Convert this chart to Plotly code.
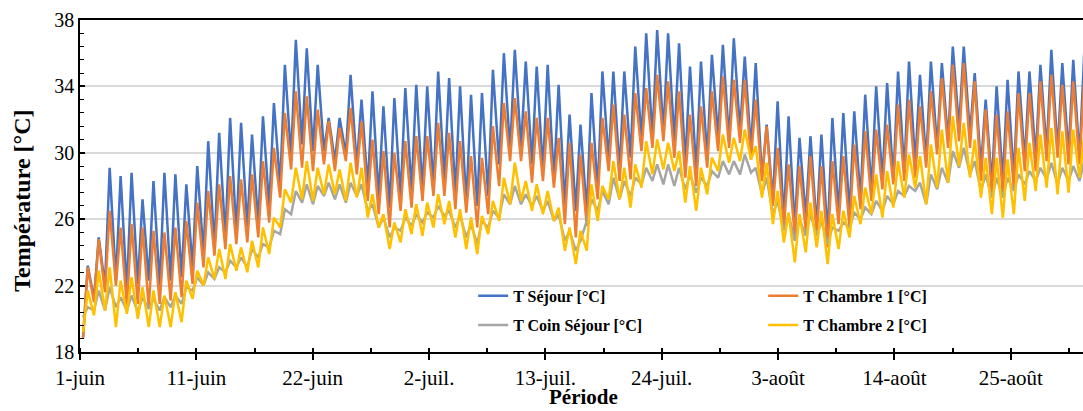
import plotly.graph_objects as go

# Daily extremes (°C), June 1 (day 0) to August 31 (day 91)
sejour_max = [23.2, 24.9, 29.1, 28.6, 28.8, 27.2, 28.3, 28.8, 28.7, 28.1,
              29.2, 30.7, 31.2, 32.1, 31.8, 31.1, 32.2, 33.0, 35.3, 36.8,
              36.3, 35.3, 32.1, 32.1, 34.7, 33.2, 33.7, 32.8, 33.3, 33.9,
              34.1, 34.0, 34.9, 34.5, 34.0, 33.5, 33.6, 35.0, 36.0, 36.2,
              35.5, 35.2, 35.3, 34.1, 32.3, 31.7, 33.6, 34.9, 34.9, 34.9,
              36.4, 37.2, 37.4, 37.2, 36.6, 35.2, 35.5, 35.9, 36.5, 36.9,
              35.8, 35.4, 31.7, 33.1, 32.2, 30.9, 31.0, 31.1, 32.1, 32.4,
              32.5, 33.5, 34.0, 34.2, 34.9, 35.5, 34.7, 35.5, 35.4, 36.4,
              36.4, 34.8, 33.2, 34.0, 34.4, 34.9, 34.9, 35.3, 36.2, 35.4,
              35.6, 36.0]
sejour_min = [18.9, 21.2, 22.0, 22.3, 21.7, 22.1, 22.3, 22.0, 22.3, 22.5,
              23.1, 23.9, 24.3, 24.9, 25.2, 25.5, 25.7, 26.7, 28.0, 29.7,
              30.5, 30.1, 30.1, 29.5, 29.9, 29.2, 27.9, 27.3, 26.7, 27.3,
              27.7, 27.7, 27.9, 28.3, 27.5, 26.9, 26.8, 27.4, 29.3, 30.1,
              30.3, 29.3, 28.9, 28.3, 26.8, 26.5, 26.4, 27.7, 29.5, 28.9,
              29.7, 30.7, 30.9, 31.2, 30.7, 29.3, 28.9, 29.7, 30.9, 30.7,
              31.3, 30.2, 28.5, 27.1, 25.9, 25.5, 26.1, 25.5, 25.0, 26.3,
              26.3, 27.2, 27.7, 28.3, 28.4, 28.9, 29.3, 29.5, 30.3, 30.7,
              31.5, 31.1, 29.1, 28.1, 28.3, 28.5, 29.5, 29.7, 30.1, 30.1,
              29.9, 29.7]

chambre1_max = [23.1, 24.8, 26.5, 25.5, 25.7, 25.5, 25.3, 25.2, 25.5, 25.9,
                27.0, 27.7, 28.1, 28.6, 28.4, 28.7, 29.5, 30.3, 32.4, 33.7,
                33.4, 32.6, 31.9, 31.5, 32.7, 31.9, 30.8, 30.1, 30.0, 30.7,
                31.0, 31.0, 31.8, 31.2, 30.7, 29.8, 29.7, 31.6, 33.0, 33.3,
                32.5, 32.1, 32.1, 30.9, 30.6, 29.9, 30.6, 32.1, 32.9, 32.3,
                33.6, 33.9, 34.7, 34.3, 33.7, 32.3, 32.8, 33.7, 34.6, 34.4,
                34.4, 33.2, 31.6, 30.3, 29.3, 29.2, 29.8, 29.2, 29.5, 29.8,
                30.5, 31.3, 31.4, 31.7, 32.9, 33.2, 32.8, 33.7, 34.5, 35.3,
                35.4, 34.3, 32.6, 32.3, 32.5, 33.6, 33.6, 34.3, 34.7, 34.1,
                34.3, 34.4]
chambre1_min = [18.8, 21.0, 21.6, 22.0, 20.8, 20.9, 20.7, 20.9, 21.1, 21.3,
                22.1, 23.1, 23.8, 24.2, 24.5, 24.6, 24.9, 25.8, 27.3, 29.0,
                29.1, 28.9, 29.3, 28.9, 29.5, 28.7, 27.1, 26.3, 25.5, 26.5,
                26.7, 27.1, 27.4, 27.4, 26.6, 26.4, 25.5, 26.3, 28.0, 29.5,
                29.5, 28.2, 28.3, 27.9, 25.7, 24.9, 25.6, 27.2, 28.9, 28.3,
                28.4, 30.1, 30.3, 30.7, 29.7, 28.5, 28.0, 29.1, 30.1, 30.3,
                30.6, 29.6, 28.3, 26.8, 25.5, 25.0, 25.3, 25.1, 24.3, 25.7,
                25.5, 26.6, 27.1, 27.8, 28.1, 28.3, 28.5, 29.1, 29.9, 30.3,
                30.7, 30.3, 28.3, 27.5, 27.5, 27.9, 28.9, 28.9, 29.5, 29.7,
                29.3, 29.3]

coin_sejour_max = [20.7, 21.7, 21.9, 21.3, 21.4, 21.3, 21.2, 21.3, 21.4, 21.9,
                   22.5, 22.8, 23.1, 23.5, 23.7, 24.2, 24.5, 25.3, 26.6, 27.7,
                   28.1, 28.0, 28.2, 28.1, 28.2, 28.1, 26.9, 26.1, 25.5, 26.1,
                   26.3, 26.4, 26.8, 26.5, 26.2, 25.7, 25.9, 26.5, 27.5, 28.0,
                   27.5, 27.4, 27.1, 26.3, 25.3, 24.7, 27.2, 27.7, 28.5, 28.3,
                   28.5, 29.1, 29.3, 29.3, 29.1, 28.7, 28.5, 28.9, 29.5, 29.5,
                   29.9, 29.1, 28.5, 27.1, 26.3, 26.0, 26.3, 25.9, 25.5, 25.8,
                   26.4, 26.7, 27.1, 27.4, 27.7, 28.0, 28.2, 28.7, 29.1, 30.1,
                   30.3, 29.5, 28.7, 28.5, 28.5, 28.7, 28.9, 29.1, 29.4, 29.1,
                   29.2, 29.5]
coin_sejour_min = [20.1, 20.5, 20.5, 20.7, 20.5, 20.4, 20.6, 20.5, 20.7, 20.9,
                   21.7, 22.0, 22.4, 22.8, 23.1, 23.1, 23.7, 24.3, 25.1, 26.3,
                   27.0, 26.9, 27.4, 27.2, 27.0, 27.4, 26.5, 25.5, 24.9, 25.3,
                   25.6, 25.8, 26.1, 26.2, 25.5, 24.9, 24.5, 25.5, 26.1, 26.9,
                   26.9, 26.8, 26.5, 25.9, 24.7, 24.1, 25.9, 26.5, 26.9, 27.2,
                   27.4, 28.1, 28.3, 28.1, 28.0, 27.8, 27.6, 28.0, 28.5, 28.7,
                   28.7, 28.8, 27.5, 26.3, 25.3, 24.7, 25.0, 25.0, 24.5, 25.3,
                   25.5, 26.0, 26.3, 26.5, 26.9, 27.4, 27.7, 26.9, 27.8, 28.2,
                   29.1, 28.7, 27.7, 27.3, 27.3, 27.7, 28.1, 28.3, 28.4, 28.1,
                   28.3, 28.3]

chambre2_max = [21.7, 22.9, 23.1, 22.3, 22.5, 21.9, 21.7, 21.4, 21.6, 22.3,
                22.9, 23.7, 24.2, 24.5, 24.3, 24.7, 25.5, 26.1, 27.8, 29.1,
                29.5, 29.1, 29.3, 29.0, 29.4, 29.1, 27.5, 26.3, 25.8, 26.6,
                26.9, 27.0, 27.5, 27.1, 26.6, 26.1, 26.2, 27.1, 28.5, 29.4,
                28.3, 28.1, 27.7, 26.7, 25.5, 25.3, 28.1, 28.0, 29.5, 29.1,
                29.3, 30.7, 30.8, 30.6, 30.1, 29.2, 29.1, 29.7, 31.1, 30.9,
                31.4, 30.4, 29.4, 27.7, 26.4, 26.3, 27.0, 26.5, 26.3, 26.5,
                27.4, 27.9, 28.7, 28.9, 29.5, 29.9, 29.8, 30.5, 31.4, 32.2,
                31.8, 30.8, 29.7, 29.7, 29.6, 30.3, 30.6, 31.1, 31.5, 31.3,
                31.4, 31.0]
chambre2_min = [19.2, 20.2, 20.5, 19.5, 20.3, 20.0, 19.5, 19.5, 19.5, 19.8,
                21.2, 22.0, 22.4, 22.4, 22.9, 22.8, 23.1, 23.9, 25.5, 27.0,
                27.2, 27.1, 27.5, 27.5, 27.1, 27.3, 26.1, 25.5, 24.2, 24.6,
                25.1, 25.0, 25.5, 25.7, 24.9, 24.2, 23.9, 25.1, 25.9, 26.9,
                27.1, 26.5, 26.3, 25.9, 24.1, 23.3, 24.1, 25.9, 27.2, 27.2,
                26.7, 27.9, 28.7, 29.0, 28.9, 27.0, 26.5, 27.5, 28.9, 29.4,
                29.5, 29.6, 27.3, 25.7, 24.6, 23.4, 24.0, 24.3, 23.3, 24.2,
                24.9, 25.7, 26.3, 26.1, 26.7, 27.3, 27.9, 26.9, 27.9, 28.2,
                29.2, 28.5, 27.3, 26.3, 26.1, 26.3, 27.1, 27.7, 27.9, 27.5,
                27.6, 28.5]

tick_days = [0, 10.625, 21.25, 31.875, 42.5, 53.125, 63.75, 74.375, 85.0]
tick_labels = ["1-juin", "11-juin", "22-juin", "2-juil.", "13-juil.",
               "24-juil.", "3-août", "14-août", "25-août"]

# Time of day (fraction of day) for the morning low and afternoon high
T_LOW, T_HIGH = 0.28, 0.71


def daily_series(lows, highs):
    xs, ys = [], []
    for d, (lo, hi) in enumerate(zip(lows, highs)):
        xs += [d + T_LOW, d + T_HIGH]
        ys += [lo, hi]
    return xs, ys


series = [
    ("T Séjour [°C]", sejour_min, sejour_max, "#4472C4", "legend"),
    ("T Chambre 1 [°C]", chambre1_min, chambre1_max, "#ED7D31", "legend"),
    ("T Coin Séjour [°C]", coin_sejour_min, coin_sejour_max, "#A5A5A5", "legend2"),
    ("T Chambre 2 [°C]", chambre2_min, chambre2_max, "#FFC000", "legend2"),
]

SERIF = "Liberation Serif, Times New Roman, serif"

fig = go.Figure()
for name, lows, highs, color, leg in series:
    xs, ys = daily_series(lows, highs)
    fig.add_trace(go.Scatter(x=xs, y=ys, mode="lines", name=name,
                             line=dict(color=color, width=2.5), legend=leg))

legend_style = dict(orientation="h", xanchor="left", yanchor="middle",
                    x=0.392, entrywidth=245, itemwidth=30,
                    bgcolor="rgba(0,0,0,0)",
                    font=dict(family=SERIF, size=16, color="black", weight="bold"))

fig.update_layout(
    width=1083, height=411,
    margin=dict(l=80, r=0, t=20, b=59),
    plot_bgcolor="white", paper_bgcolor="white",
    font=dict(family=SERIF, color="black"),
    legend=dict(**legend_style, y=0.169),
    legend2=dict(**legend_style, y=0.081),
    xaxis=dict(
        range=[0, 91.6], tickmode="array", tickvals=tick_days, ticktext=tick_labels,
        showgrid=False, zeroline=False,
        showline=True, linecolor="black", linewidth=1.5, mirror=True,
        ticks="outside", ticklen=6, tickwidth=1.5, tickcolor="black",
        ticklabelstandoff=0,
        tickfont=dict(family=SERIF, size=21, color="black"),
        minor=dict(tickmode="linear", tick0=0, dtick=5.3125, ticks="inside",
                   ticklen=4, tickwidth=1.5, tickcolor="black", showgrid=False),
        automargin=False,
    ),
    yaxis=dict(
        range=[18, 38], tickmode="linear", tick0=18, dtick=4,
        showgrid=True, gridcolor="#D9D9D9", gridwidth=1.5, zeroline=False,
        showline=True, linecolor="black", linewidth=1.5,
        ticks="inside", ticklen=5, tickwidth=1.5, tickcolor="black",
        tickfont=dict(family=SERIF, size=20, color="black"),
        minor=dict(tickmode="linear", tick0=18, dtick=0.8, ticks="inside",
                   ticklen=4, tickwidth=1.2, tickcolor="black", showgrid=False),
        automargin=False,
    ),
    annotations=[
        dict(text="Température [°C]", textangle=-90, showarrow=False,
             xref="paper", yref="paper", x=-0.058, y=0.455,
             xanchor="center", yanchor="middle",
             font=dict(family=SERIF, size=24, color="black", weight="bold")),
        dict(text="Période", showarrow=False,
             xref="paper", yref="paper", x=0.502, y=-0.1355,
             xanchor="center", yanchor="middle",
             font=dict(family=SERIF, size=21, color="black", weight="bold")),
    ],
)

fig.write_html("out.html")
